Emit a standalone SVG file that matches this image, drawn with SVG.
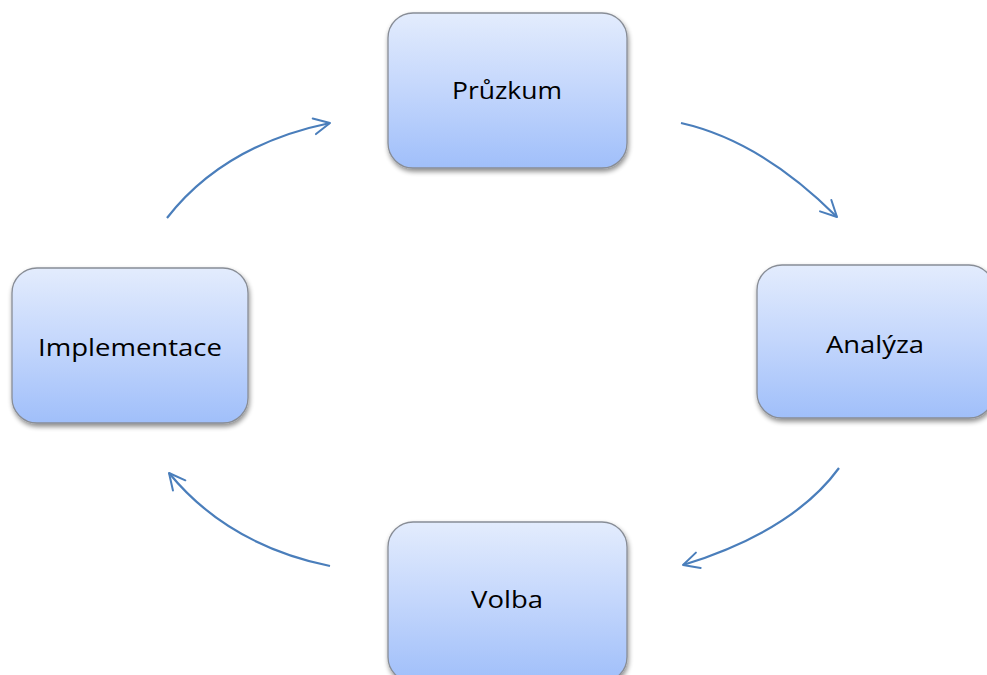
<svg xmlns="http://www.w3.org/2000/svg" width="987" height="675" viewBox="0 0 987 675">
  <defs>
    <linearGradient id="boxFill" x1="0" y1="0" x2="0" y2="1">
      <stop offset="0" stop-color="#e3ecfd"/>
      <stop offset="0.5" stop-color="#c3d6fc"/>
      <stop offset="1" stop-color="#a0bffa"/>
    </linearGradient>
    <filter id="shadow" x="-10%" y="-10%" width="125%" height="130%">
      <feGaussianBlur in="SourceAlpha" stdDeviation="2.5"/>
      <feOffset dx="1" dy="3" result="off"/>
      <feComponentTransfer><feFuncA type="linear" slope="0.45"/></feComponentTransfer>
      <feMerge><feMergeNode/><feMergeNode in="SourceGraphic"/></feMerge>
    </filter>
    <marker id="openArrow" viewBox="0 0 20 20" refX="18" refY="10" markerWidth="20" markerHeight="20" markerUnits="userSpaceOnUse" orient="auto">
      <path d="M2,2 L18,10 L2,18" fill="none" stroke="#4a7ebb" stroke-width="2" stroke-linecap="round" stroke-linejoin="round"/>
    </marker>
  </defs>
  <style>
    .box { fill: url(#boxFill); stroke: #888d96; stroke-width: 1.3; filter: url(#shadow); }
    .label { font-family: "Open Sans", "Liberation Sans", sans-serif; font-size: 24px; fill: #000; }
    .arc { fill: none; stroke: #4a7ebb; stroke-width: 2.2; marker-end: url(#openArrow); }
  </style>
  <rect width="987" height="675" fill="#ffffff"/>

  <g id="connectors">
    <path class="arc" d="M681,123 Q761,141 837,217"/>
    <path class="arc" d="M839,468 Q793,531 683,565"/>
    <path class="arc" d="M330,566 Q228,545 169,473"/>
    <path class="arc" d="M167,218 Q224,145 330,123"/>
  </g>

  <g id="node-pruzkum">
    <rect class="box" x="388" y="13" width="239" height="155" rx="25" ry="25"/>
    <text class="label" x="452" y="99" textLength="110" lengthAdjust="spacingAndGlyphs">Průzkum</text>
  </g>

  <g id="node-analyza">
    <rect class="box" x="757" y="265" width="237" height="153" rx="25" ry="25"/>
    <text class="label" x="826" y="353" textLength="98" lengthAdjust="spacingAndGlyphs">Analýza</text>
  </g>

  <g id="node-volba">
    <rect class="box" x="388" y="522" width="239" height="160" rx="25" ry="25"/>
    <text class="label" x="471" y="608" textLength="72" lengthAdjust="spacingAndGlyphs">Volba</text>
  </g>

  <g id="node-implementace">
    <rect class="box" x="12" y="268" width="236" height="155" rx="25" ry="25"/>
    <text class="label" x="38" y="356" textLength="184" lengthAdjust="spacingAndGlyphs">Implementace</text>
  </g>
</svg>
